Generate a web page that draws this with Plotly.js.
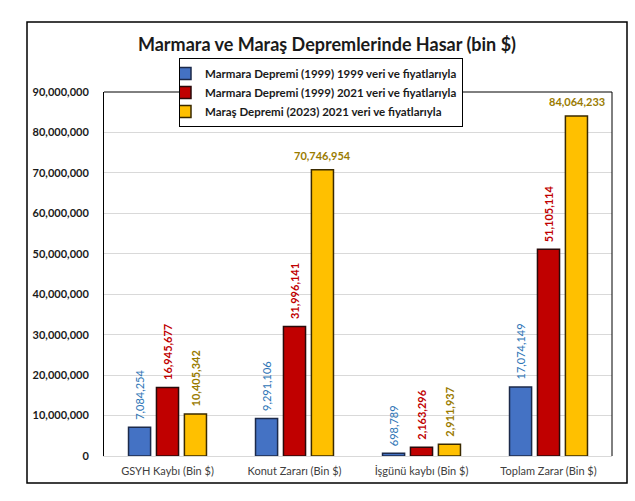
<!DOCTYPE html>
<html>
<head>
<meta charset="utf-8">
<script src="https://cdn.plot.ly/plotly-3.0.1.min.js"></script>
<style>html,body{margin:0;padding:0;background:#fff;}#chart{width:635px;height:501px;}</style>
</head>
<body>
<div id="chart"></div>
<script>
const categories = ["GSYH Kaybı (Bin $)", "Konut Zararı (Bin $)", "İşgünü kaybı (Bin $)", "Toplam Zarar (Bin $)"];
const seriesNames = [
  "Marmara Depremi (1999) 1999 veri ve fiyatlarıyla",
  "Marmara Depremi (1999) 2021 veri ve fiyatlarıyla",
  "Maraş Depremi (2023) 2021 veri ve fiyatlarıyla"
];
const marmara1999 = [7084254, 9291106, 698789, 17074149];
const marmara2021 = [16945677, 31996141, 2163296, 51105114];
const maras2021 = [10405342, 70746954, 2911937, 84064233];
const yTicks = [0, 10000000, 20000000, 30000000, 40000000, 50000000, 60000000, 70000000, 80000000, 90000000];

const FONT = "Lato, 'Open Sans', sans-serif";
const barColors = ["#4472c4", "#c00000", "#ffc000"];
const lineColors = ["#1c2a4a", "#2a0a0a", "#3a2a00"];
const labelColors = ["#2e75b6", "#c00000", "#9a7b00"];
const labelBold = [false, true, true];
const allSeries = [marmara1999, marmara2021, maras2021];

const traces = allSeries.map((vals, s) => ({
  type: "bar",
  name: seriesNames[s],
  x: categories,
  y: vals,
  marker: {color: barColors[s], line: {color: lineColors[s], width: 1.5}},
  hoverinfo: "skip"
}));

const fmt = v => v.toLocaleString("en-US");
const annotations = [];
allSeries.forEach((vals, s) => {
  vals.forEach((v, i) => {
    const horiz = v > 60000000;
    const txt = labelBold[s] ? "<b>" + fmt(v) + "</b>" : fmt(v);
    annotations.push({
      x: categories[i], y: v, xref: "x", yref: "y",
      xshift: (s - 1) * 28,
      yshift: horiz ? 6 : 5,
      text: txt, showarrow: false,
      textangle: horiz ? 0 : -90,
      xanchor: "center", yanchor: "bottom",
      font: {family: FONT, size: 11, color: labelColors[s]}
    });
  });
});

// plot area: l=104, r=612, t=92, b=456
const W = 508, H = 364;
const px = x => (x - 104) / W;
const py = y => (456 - y) / H;

const shapes = [
  {type: "rect", xref: "paper", yref: "paper", x0: px(27), x1: px(627), y0: py(483), y1: py(22),
   line: {color: "#000", width: 1.5}, fillcolor: "rgba(0,0,0,0)", layer: "below"},
  {type: "line", xref: "paper", yref: "paper", x0: 0, x1: 1, y0: 1, y1: 1, line: {color: "#000", width: 1}},
  {type: "line", xref: "paper", yref: "paper", x0: 1, x1: 1, y0: 0, y1: 1, line: {color: "#000", width: 1}}
];

const layout = {
  width: 635, height: 501,
  margin: {l: 104, r: 23, t: 92, b: 45, pad: 0},
  paper_bgcolor: "#fff", plot_bgcolor: "#fff",
  font: {family: FONT, color: "#262626"},
  title: {text: "<b>Marmara ve Maraş Depremlerinde Hasar (bin $)</b>", font: {family: FONT, size: 18, color: "#1a1a1a"},
          x: px(327), xref: "paper", xanchor: "center", y: 1 - 45 / 501, yref: "container", yanchor: "middle"},
  barmode: "group", bargap: 0.34, bargroupgap: 0.21,
  showlegend: true,
  legend: {x: px(179), y: py(58), xanchor: "left", yanchor: "top", xref: "paper", yref: "paper",
           bgcolor: "#fff", bordercolor: "#000", borderwidth: 1, indentation: -15,
           font: {family: FONT, size: 11.5, color: "#1a1a1a", weight: "bold"},
           itemwidth: 30, tracegroupgap: 0, traceorder: "normal"},
  xaxis: {type: "category", showgrid: false, showline: true, linecolor: "#d9d9d9", linewidth: 1,
          ticks: "", ticklabelstandoff: 5, tickfont: {family: FONT, size: 11, color: "#404040"}, fixedrange: true},
  yaxis: {range: [0, 90000000], tickvals: yTicks, tickformat: ",d", showgrid: true, gridcolor: "#d9d9d9",
          gridwidth: 1, zeroline: false, showline: true, linecolor: "#000", linewidth: 1, ticks: "",
          ticklabelstandoff: 12,
          tickfont: {family: FONT, size: 11, color: "#1a1a1a", weight: "bold"}, fixedrange: true},
  annotations: annotations,
  shapes: shapes
};

Plotly.newPlot("chart", traces, layout, {displayModeBar: false, staticPlot: true});
</script>
</body>
</html>
